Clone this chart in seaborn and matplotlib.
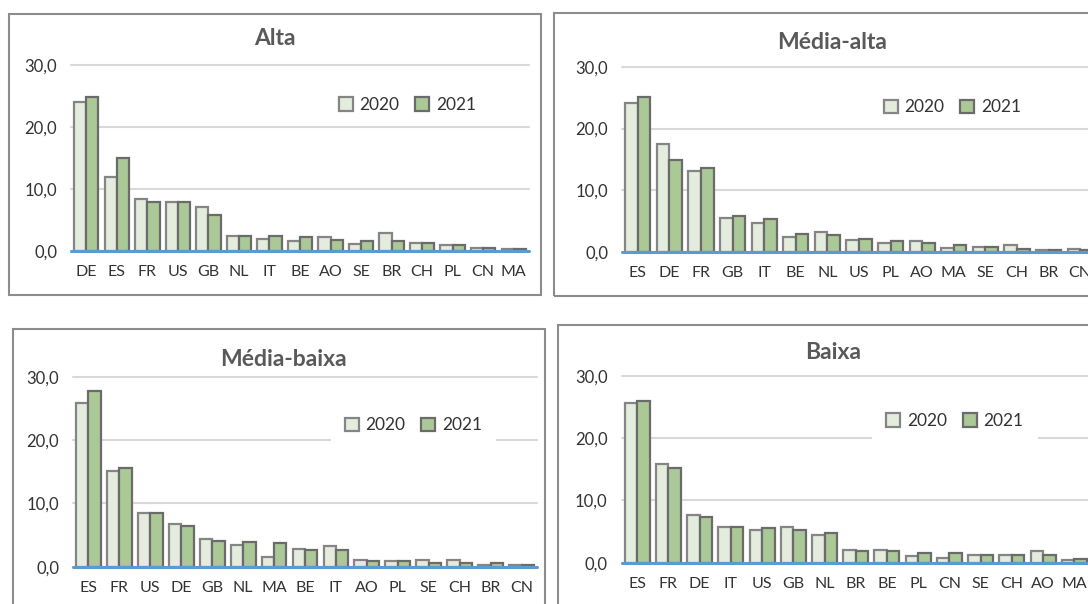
import numpy as np
import pandas as pd
import matplotlib
matplotlib.use("Agg")
import matplotlib.pyplot as plt
import seaborn as sns
from matplotlib.patches import Rectangle

sns.set_theme(style="white")
plt.rcParams['font.family'] = ['Lato', 'DejaVu Sans']

# ---------------- data ----------------
years = ["2020", "2021"]

alta_countries = ["DE", "ES", "FR", "US", "GB", "NL", "IT", "BE", "AO", "SE", "BR", "CH", "PL", "CN", "MA"]
alta_2020 = [24.0, 11.9, 8.3, 7.8, 7.0, 2.3, 1.9, 1.6, 2.2, 1.1, 2.8, 1.2, 0.9, 0.5, 0.2]
alta_2021 = [24.8, 15.0, 7.8, 7.8, 5.7, 2.3, 2.3, 2.2, 1.7, 1.5, 1.5, 1.2, 0.9, 0.4, 0.2]

media_alta_countries = ["ES", "DE", "FR", "GB", "IT", "BE", "NL", "US", "PL", "AO", "MA", "SE", "CH", "BR", "CN"]
media_alta_2020 = [24.2, 17.5, 13.1, 5.6, 4.8, 2.5, 3.3, 2.0, 1.5, 1.8, 0.7, 0.9, 1.2, 0.4, 0.6]
media_alta_2021 = [25.1, 14.9, 13.6, 5.8, 5.4, 3.0, 2.8, 2.2, 1.8, 1.5, 1.2, 0.9, 0.6, 0.4, 0.3]

media_baixa_countries = ["ES", "FR", "US", "DE", "GB", "NL", "MA", "BE", "IT", "AO", "PL", "SE", "CH", "BR", "CN"]
media_baixa_2020 = [25.8, 15.1, 8.5, 6.7, 4.4, 3.4, 1.6, 2.8, 3.2, 1.1, 0.9, 1.1, 1.1, 0.3, 0.3]
media_baixa_2021 = [27.8, 15.6, 8.5, 6.5, 4.1, 3.9, 3.7, 2.6, 2.6, 0.9, 0.9, 0.6, 0.6, 0.6, 0.3]

baixa_countries = ["ES", "FR", "DE", "IT", "US", "GB", "NL", "BR", "BE", "PL", "CN", "SE", "CH", "AO", "MA"]
baixa_2020 = [25.6, 15.8, 7.6, 5.8, 5.3, 5.7, 4.4, 2.1, 2.1, 1.1, 0.7, 1.2, 1.2, 1.9, 0.5]
baixa_2021 = [26.0, 15.2, 7.3, 5.8, 5.6, 5.3, 4.8, 1.9, 1.9, 1.5, 1.5, 1.2, 1.2, 1.2, 0.6]

titles = ["Alta", "Média-alta", "Média-baixa", "Baixa"]
y_ticks = [0, 10, 20, 30]
y_tick_labels = ["0,0", "10,0", "20,0", "30,0"]

# ---------------- style ----------------
C2020 = "#e2efda"
C2021 = "#a9d18e"
EDGE2020 = "#858585"
EDGE2021 = "#6b6b6b"
TXT = "#333333"
TITLE_C = "#595959"

W, H = 1088, 604
fig = plt.figure(figsize=(W / 100, H / 100), dpi=100)
fig.patch.set_facecolor("white")


def rect_px(l, t, r, b):
    return [l / W, 1 - b / H, (r - l) / W, (b - t) / H]


panels = [
    dict(cats=alta_countries, v0=alta_2020, v1=alta_2021,
         plot=(71, 65, 529, 250.7), frame=(9, 14, 540.5, 295),
         title_xy=(274.6, 38.5), leg=(407.5, 105), legbox=False),
    dict(cats=media_alta_countries, v0=media_alta_2020, v1=media_alta_2021,
         plot=(622, 66.7, 1096, 252.3), frame=(554, 13, 1112, 296),
         title_xy=(831.8, 42.5), leg=(952.5, 107.5), legbox=False),
    dict(cats=media_baixa_countries, v0=media_baixa_2020, v1=media_baixa_2021,
         plot=(73, 376.7, 537, 566.7), frame=(12.5, 329, 544.5, 630),
         title_xy=(283, 359), leg=(413.5, 425.5), legbox=True),
    dict(cats=baixa_countries, v0=baixa_2020, v1=baixa_2021,
         plot=(621.5, 375.7, 1090, 562.7), frame=(558, 325, 1112, 630),
         title_xy=(833, 352.7), leg=(955, 421), legbox=True),
]

for p, title in zip(panels, titles):
    # frame
    l, t, r, b = p["frame"]
    fig.add_artist(Rectangle((l / W, 1 - b / H), (r - l) / W, (b - t) / H,
                             transform=fig.transFigure, fill=False,
                             edgecolor="#8c8c8c", linewidth=1.5, zorder=0))
    # title
    tx, ty = p["title_xy"]
    fig.text(tx / W, 1 - ty / H, title, ha="center", va="center",
             fontsize=16.5, fontweight="bold", color=TITLE_C)

    pl, pt, pr, pb = p["plot"]
    ax = fig.add_axes(rect_px(pl, pt, pr, pb))
    df = pd.DataFrame({
        "country": list(p["cats"]) * 2,
        "value": list(p["v0"]) + list(p["v1"]),
        "year": [years[0]] * len(p["cats"]) + [years[1]] * len(p["cats"]),
    })
    sns.barplot(data=df, x="country", y="value", hue="year", order=p["cats"],
                hue_order=years, palette=[C2020, C2021], width=0.8, gap=0,
                edgecolor=EDGE2020, linewidth=1.6, ax=ax, legend=True)
    for cont, ec in zip(ax.containers, [EDGE2020, EDGE2021]):
        for bar in cont:
            bar.set_edgecolor(ec)

    ax.set_ylim(0, 30)
    ax.set_xlim(-0.5, len(p["cats"]) - 0.5)
    ax.set_yticks(y_ticks)
    ax.set_yticklabels(y_tick_labels)
    ax.set_xlabel("")
    ax.set_ylabel("")
    for s in ax.spines.values():
        s.set_visible(False)
    ax.set_axisbelow(True)
    ax.yaxis.grid(True, color="#d9d9d9", linewidth=1.5)
    for gl in ax.get_ygridlines():
        gl.set_clip_on(False)
    ax.axhline(0, color="#5b9bd5", linewidth=2.2, zorder=5, clip_on=False)
    ax.tick_params(axis="y", length=0, pad=10, labelsize=12, labelcolor=TXT)
    ax.tick_params(axis="x", length=0, pad=10, labelsize=11.5, labelcolor=TXT)
    ax.patch.set_alpha(0)

    handles, labels = ax.get_legend_handles_labels()
    if ax.get_legend() is not None:
        ax.get_legend().remove()
    lx, ly = p["leg"]
    ax_x = (lx - pl) / (pr - pl)
    ax_y = (pb - ly) / (pb - pt)
    leg = ax.legend(handles, labels, loc="center", bbox_to_anchor=(ax_x, ax_y),
                    ncol=2, fontsize=12.5, handlelength=0.8, handleheight=0.8,
                    handletextpad=0.4, columnspacing=0.9, borderpad=0.8,
                    frameon=p["legbox"], labelcolor=TXT)
    if p["legbox"]:
        leg.get_frame().set_facecolor("white")
        leg.get_frame().set_edgecolor("none")
        leg.get_frame().set_alpha(1)
        leg.get_frame().set_boxstyle("square", pad=0)
    for h, ec in zip(leg.legend_handles, [EDGE2020, EDGE2021]):
        h.set_edgecolor(ec)
        h.set_linewidth(1.6)

fig.savefig("out.png", dpi=100, facecolor="white")
